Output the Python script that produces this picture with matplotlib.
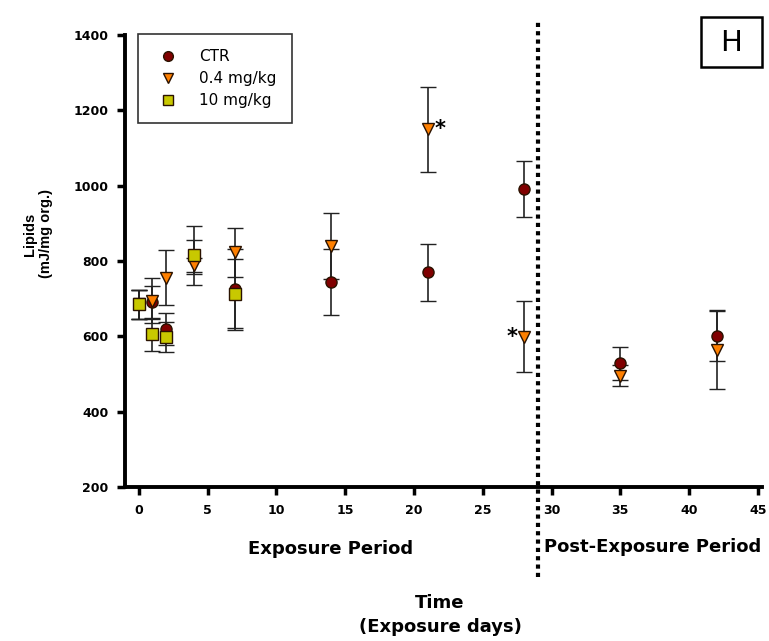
import numpy as np
import matplotlib
matplotlib.use("Agg")
import matplotlib.pyplot as plt
from matplotlib.lines import Line2D
from matplotlib.patches import Rectangle
from matplotlib.transforms import blended_transform_factory

plt.rcParams['font.family'] = ['DejaVu Sans']

# data
days_ctr = [0, 1, 2, 4, 7, 14, 21, 28, 35, 42]
ctr = [685, 690, 620, 810, 727, 745, 770, 991, 528, 602]
ctr_err = [38, 45, 42, 45, 105, 88, 75, 74, 45, 68]

days_low = [0, 1, 2, 4, 7, 14, 21, 28, 35, 42]
low = [685, 695, 756, 790, 823, 840, 1150, 599, 496, 563]
low_err = [38, 60, 72, 18, 65, 88, 113, 94, 28, 104]

days_high = [0, 1, 2, 4, 7]
high = [685, 605, 599, 815, 712]
high_err = [38, 44, 40, 78, 94]

sig_days = [21, 28]
sig_vals = [1150, 599]
sig_dx = [0.9, -0.9]

period_split = 29

fig = plt.figure(figsize=(7.69, 6.41), dpi=100)
ax = fig.add_axes([0.1625, 0.2402, 0.8285, 0.7052])

groups = [
    (days_ctr, ctr, ctr_err, 'o', '#800000', 'CTR'),
    (days_low, low, low_err, 'v', '#FF8000', '0.4 mg/kg'),
    (days_high, high, high_err, 's', '#C8C800', '10 mg/kg'),
]
handles = []
for x, y, e, m, c, lab in groups:
    ax.errorbar(x, y, yerr=e, fmt=m, color=c, mec='#2a1200', mew=1.0, ms=8,
                ecolor='#222222', elinewidth=1.2, capsize=6, capthick=1.2,
                zorder=3)
    handles.append(Line2D([], [], linestyle='', marker=m, color=c, mec='#2a1200',
                          mew=1.0, ms=7, label=lab))

for d, v, dx in zip(sig_days, sig_vals, sig_dx):
    ax.text(d + dx, v, '*', ha='center', va='center', fontsize=15,
            fontweight='bold', color='black')

# dotted separator reaching outside the axes
trans = blended_transform_factory(ax.transData, fig.transFigure)
ax.plot([period_split, period_split], [0.10, 0.966], transform=trans,
        color='black', lw=3, linestyle=(0, (1, 1)), clip_on=False, zorder=4)

ax.set_xlim(-1, 45.3)
ax.set_ylim(200, 1400)
ax.set_xticks(np.arange(0, 50, 5))
ax.set_yticks(np.arange(200, 1600, 200))
for s in ['top', 'right']:
    ax.spines[s].set_visible(False)
for s in ['left', 'bottom']:
    ax.spines[s].set_linewidth(2.8)
ax.tick_params(width=2.5, length=6, labelsize=9, pad=6)
for t in ax.get_xticklabels() + ax.get_yticklabels():
    t.set_fontweight('bold')

fig.text(38 / 769, 1 - 234 / 641, 'Lipids\n(mJ/mg org.)', rotation=90,
         ha='center', va='center', fontsize=10.5, fontweight='bold',
         family='Liberation Sans', linespacing=1.1)

fig.text(331 / 769, 1 - 549 / 641, 'Exposure Period', ha='center', va='center',
         fontsize=13, fontweight='bold')
fig.text(653 / 769, 1 - 547 / 641, 'Post-Exposure Period', ha='center', va='center',
         fontsize=13, fontweight='bold')
fig.text(440 / 769, 1 - 603 / 641, 'Time', ha='center', va='center',
         fontsize=13, fontweight='bold')
fig.text(440 / 769, 1 - 627 / 641, '(Exposure days)', ha='center', va='center',
         fontsize=13, fontweight='bold')

leg = fig.legend(handles=handles, loc='upper left',
                 bbox_to_anchor=(138 / 769, 1 - 34 / 641), fontsize=11,
                 frameon=True, fancybox=False, edgecolor='black', borderpad=1.0,
                 borderaxespad=0, handletextpad=1.1, labelspacing=0.45,
                 handlelength=1.9)
leg.get_frame().set_linewidth(1.2)

fig.patches.append(Rectangle((701 / 769, 1 - 67 / 641), 61 / 769, 50 / 641,
                             transform=fig.transFigure, fill=False,
                             ec='black', lw=1.8))
fig.text(731 / 769, 1 - 43 / 641, 'H', ha='center', va='center', fontsize=21)

fig.savefig('out.png', dpi=100)
